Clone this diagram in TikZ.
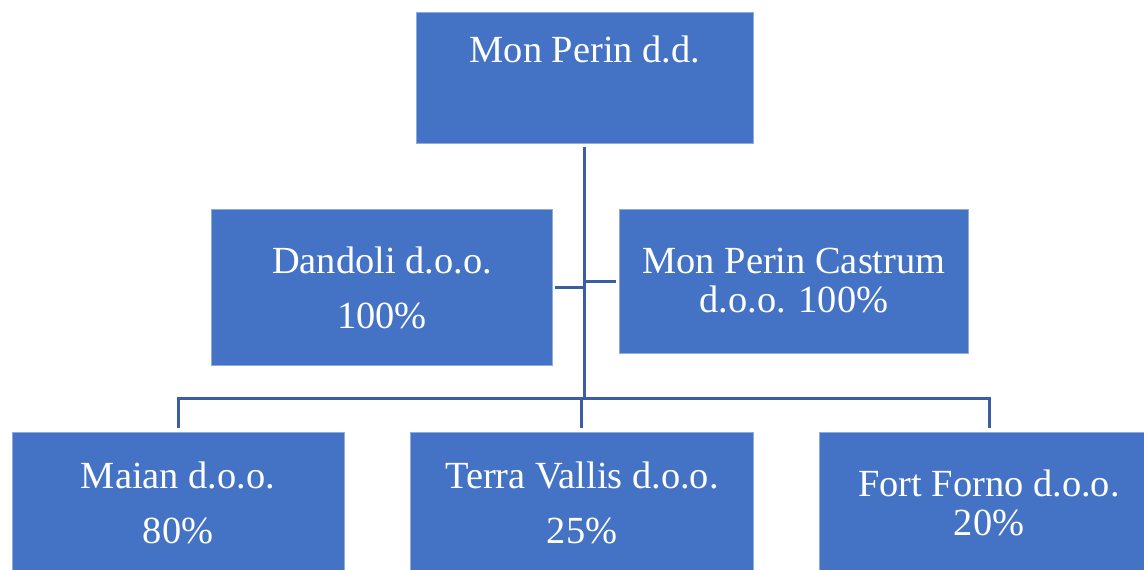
\documentclass[tikz,border=0pt]{standalone}
\usepackage{fontspec}
\setmainfont{Liberation Serif}
\definecolor{boxblue}{HTML}{4472C4}
\definecolor{boxedge}{HTML}{8FAADC}
\definecolor{linkblue}{HTML}{3A5DA3}
\begin{document}
\begin{tikzpicture}[x=1pt,y=-1pt,
  orgbox/.style={draw=boxedge,line width=0.8pt,fill=boxblue,rectangle,inner sep=0pt},
  lbl/.style={anchor=base,text=white,inner sep=0pt,font=\fontsize{38.4}{46}\selectfont},
  link/.style={draw=linkblue,line width=3pt}]
\useasboundingbox (0,0) rectangle (1144,570);
\fill[white] (0,0) rectangle (1144,570);
% boxes
\node[orgbox,minimum width=337pt,minimum height=131pt] (topbox) at (584.5,77.5) {};
\node[orgbox,minimum width=341pt,minimum height=156pt] (dand) at (381.5,287.5) {};
\node[orgbox,minimum width=349pt,minimum height=144pt] (cast) at (793.5,281) {};
\node[orgbox,minimum width=332pt,minimum height=148pt] (maian) at (178,506) {};
\node[orgbox,minimum width=343pt,minimum height=148pt] (terra) at (581.5,506) {};
\node[orgbox,minimum width=341pt,minimum height=148pt] (fort) at (989.5,506) {};
% labels
\node[lbl] (t1) at (585,62) {Mon Perin d.d.};
\node[lbl] (d1) at (382,273) {Dandoli d.o.o.};
\node[lbl] (d2) at (382,328) {100\%};
\node[lbl] (c1) at (794,273) {Mon Perin Castrum};
\node[lbl] (c2) at (794,312) {d.o.o. 100\%};
\node[lbl] (m1) at (178,488) {Maian d.o.o.};
\node[lbl] (m2) at (178,543) {80\%};
\node[lbl] (v1) at (582,488) {Terra Vallis d.o.o.};
\node[lbl] (v2) at (582,543) {25\%};
\node[lbl] (f1) at (989,496) {Fort Forno d.o.o.};
\node[lbl] (f2) at (989,535) {20\%};
% hub of the tree
\coordinate (hub) at (584.5,398.5);
% connectors
\draw[link,shorten <=4pt] (topbox.south) -- (topbox.south |- hub);
\draw[link,shorten <=3pt] (dand.east) -- (dand.east -| topbox.south);
\draw[link,shorten <=3pt] (cast.west) -- (cast.west -| topbox.south);
\draw[link,line join=miter,shorten <=4pt,shorten >=4pt] (maian.north) -- (maian.north |- hub) -- (fort.north |- hub) -- (fort.north);
\draw[link,shorten <=4pt] (terra.north) -- (terra.north |- hub);
\end{tikzpicture}
\end{document}
